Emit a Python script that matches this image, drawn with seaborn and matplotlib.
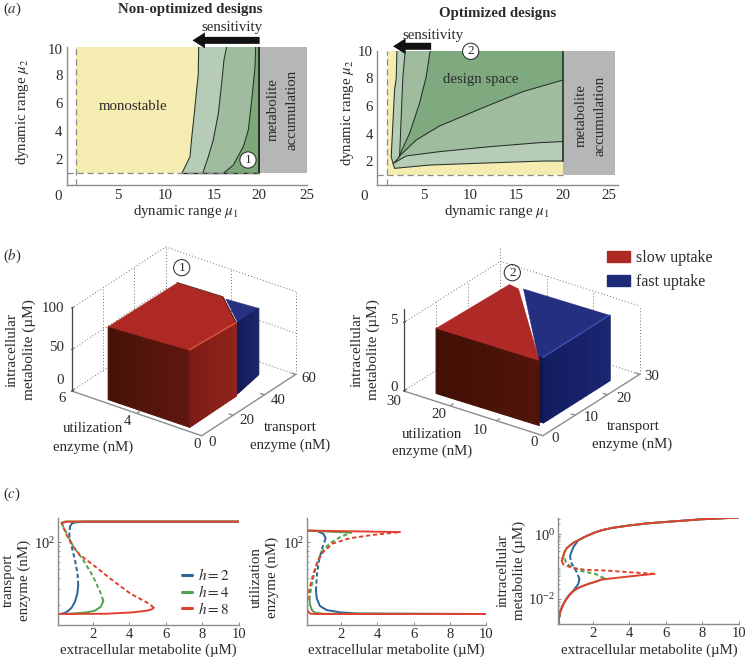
import matplotlib
matplotlib.use('Agg')
import matplotlib.pyplot as plt
import numpy as np
import seaborn as sns
from matplotlib.lines import Line2D
from matplotlib.patches import Patch
from matplotlib.ticker import LogLocator, NullFormatter
from matplotlib.transforms import ScaledTranslation
from mpl_toolkits.mplot3d import proj3d
from mpl_toolkits.mplot3d.art3d import Poly3DCollection

sns.set_theme(style='white')
plt.rcParams['font.family'] = ['Liberation Serif', 'DejaVu Serif']
plt.rcParams['mathtext.fontset'] = 'stix'

W, H = 746, 658
GREY = '#8c8c8c'
TXT = '#2b2b2b'

# panel (a), left: contours of sensitivity
a1_c1_mu1 = [12.0, 12.85, 13.0, 13.3, 13.5, 13.7, 13.75]
a1_c1_mu2 = [1, 2.2, 3.4, 5.3, 6.7, 8, 10]
a1_c2_mu1 = [14.17, 14.75, 15.27, 15.8, 16.14, 16.38, 16.66]
a1_c2_mu2 = [1, 2.18, 3.37, 5.27, 7.4, 9.06, 10]
a1_c3_mu1 = [16.32, 17.36, 18.4, 18.92, 19.27, 19.62, 19.68]
a1_c3_mu2 = [1, 1.59, 2.9, 4.08, 6.2, 8.58, 10]

# panel (a), right: closed contours
a2_c1_mu1 = [2.11, 2.04, 1.86, 1.5, 1.68, 1.86, 5.63, 11.02, 17.85, 20, 20]
a2_c1_mu2 = [10, 8, 7.16, 2.33, 1.85, 1.48, 1.72, 1.85, 2.01, 2.01, 10]
a2_c2_mu1 = [3.01, 2.76, 2.65, 2.4, 1.75, 3.12, 6.71, 12.1, 17.49, 20, 20]
a2_c2_mu2 = [10, 8.13, 6.43, 2.33, 1.85, 2.38, 2.69, 3.05, 3.34, 3.42, 10]
a2_c3_mu1 = [5.7, 5.27, 4.55, 3.48, 2.33, 4.2, 6.71, 12.1, 15.7, 20, 20]
a2_c3_mu2 = [10, 8.13, 6.19, 4.02, 2.33, 3.54, 4.55, 6.07, 7.04, 7.88, 10]

# panel (b): solids as transport, utilization, metabolite
b1_red_t = [2.8, 44, 45, 40.4, 33.4, 3]
b1_red_u = [4.54, 4.33, 2.28, 1.7, 0.83, 0.79]
b1_red_z = [88, 92, 92, 90, 88, 93]
b1_blue_t = [47.5, 52, 35]
b1_blue_u = [2.35, 1.15, 0.9]
b1_blue_z = [86, 80, 86]
b2_red_t = [2.7, 24.6, 24.1, 3]
b2_red_u = [25, 24.4, 22.1, 3]
b2_blue_t = [24.6, 25, 4.3, 4.3]
b2_blue_u = [21.4, 3, 3, 4.2]
b2_height = 4.76

# panel (c): curves run lower branch, unstable branch, upper branch
ext_ticks = [2, 4, 6, 8, 10]

trans_h2_x = [0.13, 0.3, 0.49, 0.68, 0.86, 1.04, 1.17, 1.22, 1.18, 1.04, 0.86, 0.75, 0.73, 0.77, 0.89, 1.13, 1.49, 3, 10]
trans_h2_y = [15.9, 16, 16.4, 17.3, 18.7, 21.8, 27, 33.4, 45, 63.5, 89.5, 111, 126, 150, 163, 167, 170, 170, 170]
trans_h2_turns = (7, 13)
trans_h4_x = [0.13, 0.95, 1.68, 2.13, 2.46, 2.59, 2.41, 2.04, 1.49, 0.95, 0.67, 0.4, 0.31, 0.5, 1, 10]
trans_h4_y = [15.9, 16.1, 16.6, 17.3, 19.2, 22.3, 28.2, 41.4, 63.5, 89.5, 116, 150, 166, 170, 170, 170]
trans_h4_turns = (5, 12)
trans_h8_x = [0.13, 2.77, 4.23, 4.95, 5.23, 5.35, 5.05, 4.05, 2.95, 2.04, 1.31, 0.95, 0.58, 0.31, 0.6, 10]
trans_h8_y = [15.9, 16, 16.6, 17.3, 17.9, 18.7, 20.9, 27, 39.7, 55.8, 72.3, 89.5, 121, 163, 170, 170]
trans_h8_turns = (5, 13)

util_h2_x = [10, 2.88, 1.96, 1.23, 0.86, 0.68, 0.64, 0.68, 0.77, 0.95, 1.17, 1.05, 0.68, 0.13]
util_h2_y = [15.9, 16.1, 16.6, 17.6, 19.5, 23.7, 29, 41, 58, 82, 111, 124, 134, 135]
util_h2_turns = (6, 10)
util_h4_x = [10, 1.05, 0.59, 0.41, 0.32, 0.28, 0.35, 0.5, 0.68, 0.95, 1.41, 1.96, 2.57, 0.13]
util_h4_y = [15.9, 16, 16.4, 17.6, 20, 22.8, 29, 41, 58, 78.7, 97.5, 114, 128, 135]
util_h4_turns = (5, 12)
util_h8_x = [10, 0.6, 0.35, 0.2, 0.13, 0.18, 0.31, 0.5, 0.77, 1.05, 1.59, 2.51, 3.79, 5.26, 0.13]
util_h8_y = [15.9, 15.9, 16, 16.9, 19, 23.7, 32, 45, 63.5, 78.7, 97.5, 111, 121, 130, 135]
util_h8_turns = (4, 13)

intra_low_x = [0.09, 0.12, 0.19, 0.27, 0.37]
intra_low_y = [0.00167, 0.0024, 0.00389, 0.0052, 0.007]
intra_high_x = [0.95, 1.19, 1.45, 1.74, 2.1, 2.48, 3, 3.94, 5, 6.23, 8, 10]
intra_high_y = [0.56, 0.65, 0.78, 0.93, 1.13, 1.33, 1.55, 1.85, 2.17, 2.45, 2.9, 3.27]
intra_h2_x = intra_low_x + [0.55, 0.92, 1.19, 1.25, 1.1, 0.83, 0.74, 0.74, 0.92] + intra_high_x[1:]
intra_h2_y = intra_low_y + [0.0107, 0.0182, 0.0292, 0.0419, 0.0675, 0.1225, 0.197, 0.222, 0.404] + intra_high_y[1:]
intra_h2_turns = (8, 12)
intra_h4_x = intra_low_x + [0.55, 0.74, 0.95, 1.19, 1.45, 1.74, 2.2, 2.62, 2.11, 1.38, 0.92, 0.55, 0.43, 0.28, 0.43, 0.55, 0.74] + intra_high_x
intra_h4_y = intra_low_y + [0.0102, 0.0143, 0.0182, 0.022, 0.0255, 0.0292, 0.035, 0.044, 0.0598, 0.0724, 0.092, 0.1225, 0.175, 0.148, 0.282, 0.37, 0.455] + intra_high_y
intra_h4_turns = (12, 18)
intra_h8_x = intra_low_x + [0.55, 0.74, 0.95, 1.19, 1.45, 1.74, 2.1, 2.48, 3.2, 3.94, 4.7, 5.37, 3.94, 2.66, 1.56, 0.83, 0.37, 0.28, 0.43, 0.55, 0.74] + intra_high_x
intra_h8_y = intra_low_y + [0.0102, 0.0143, 0.0182, 0.022, 0.0255, 0.0292, 0.034, 0.0398, 0.0445, 0.0494, 0.055, 0.0598, 0.0675, 0.076, 0.0798, 0.092, 0.117, 0.148, 0.282, 0.37, 0.455] + intra_high_y
intra_h8_turns = (16, 22)

H_COLORS = {2: '#2a6496', 4: '#4ea24f', 8: '#e2402f'}

fig = plt.figure(figsize=(W / 100, H / 100), dpi=100)


def add_ax(left, top, right, bottom, **kw):
    return fig.add_axes([left / W, 1 - bottom / H, (right - left) / W, (bottom - top) / H], **kw)


def label(x, y, s, size=10.7, **kw):
    kw.setdefault('ha', 'center')
    kw.setdefault('va', 'center')
    kw.setdefault('color', TXT)
    return fig.text(x / W, 1 - y / H, s, fontsize=size, **kw)


def circled(x, y, s, fill='white'):
    label(x, y, s, size=9.5, zorder=20,
          bbox=dict(boxstyle='circle,pad=0.16', fc=fill, ec='#222222', lw=0.7))


def region(ax, mu1, mu2, color, zorder=2):
    ax.fill(mu1, mu2, color=color, lw=0, zorder=zorder)


def contour(ax, mu1, mu2, lw=0.75):
    sns.lineplot(x=mu1, y=mu2, sort=False, estimator=None, color='#24302a', lw=lw, ax=ax, zorder=5)


def design_axes(ax, xmax, ymin, gray_end):
    ax.set_xlim(0, xmax)
    ax.set_ylim(ymin, 10)
    ax.set_xticks([5, 10, 15, 20, 25])
    ax.set_yticks([2, 4, 6, 8, 10])
    ax.tick_params(length=0, labelsize=10.7, colors=TXT, pad=3)
    for s in ['left', 'bottom']:
        ax.spines[s].set_color(GREY)
        ax.spines[s].set_linewidth(1)
    sns.despine(ax=ax)
    region(ax, [1, 20, 20, 1], [1, 1, 10, 10], '#f5ecb1', 1)
    region(ax, [20, gray_end, gray_end, 20], [1, 1, 10, 10], '#b5b6b6', 1)
    ax.plot([1, 1], [ymin, 10], color=GREY, lw=0.9, ls=(0, (5, 3)), zorder=6)
    ax.plot([0, 20], [1, 1], color=GREY, lw=0.9, ls=(0, (5, 3)), zorder=6)


def sens_arrow(ax, x0, x1, y):
    ax.annotate('', xy=(x1, y), xytext=(x0, y), annotation_clip=False,
                arrowprops=dict(arrowstyle='simple,head_width=0.95,head_length=0.75,tail_width=0.42',
                                color='#111111', lw=0, shrinkA=0, shrinkB=0))


def nudge(lab, dx, dy):
    lab.set_transform(lab.get_transform() + ScaledTranslation(dx / 100, dy / 100, fig.dpi_scale_trans))


# ---- panel (a) ----
ax1 = add_ax(66.7, 46.7, 306.7, 185)
design_axes(ax1, 25, 0.17, 25)
region(ax1, a1_c1_mu1 + [20, 20], a1_c1_mu2 + [10, 1], '#b7ccb7')
region(ax1, a1_c2_mu1 + [20, 20], a1_c2_mu2 + [10, 1], '#a0bc9f', 3)
region(ax1, a1_c3_mu1 + [20, 20], a1_c3_mu2 + [10, 1], '#7da87a', 4)
contour(ax1, a1_c1_mu1, a1_c1_mu2)
contour(ax1, a1_c2_mu1, a1_c2_mu2)
contour(ax1, a1_c3_mu1, a1_c3_mu2)
contour(ax1, [20, 20], [1, 10], lw=1.4)
contour(ax1, [12, 20], [1, 1], lw=1)
sens_arrow(ax1, 20.1, 13.1, 10.45)
# hand-set labels in the original sit a little off their ticks
for lab, dx in zip(ax1.get_xticklabels()[:3], [3, 2.5, 4]):
    nudge(lab, dx, 0)
nudge(ax1.get_yticklabels()[-1], 0, -2.5)

ax2 = add_ax(377.3, 50.7, 618, 185)
design_axes(ax2, 25.93, 0.275, 25.6)
region(ax2, a2_c1_mu1, a2_c1_mu2, '#b7ccb7')
region(ax2, a2_c2_mu1, a2_c2_mu2, '#a0bc9f', 3)
region(ax2, a2_c3_mu1, a2_c3_mu2, '#7fa97e', 4)
contour(ax2, a2_c1_mu1[:-1], a2_c1_mu2[:-1])
contour(ax2, a2_c2_mu1[:-1], a2_c2_mu2[:-1])
contour(ax2, a2_c3_mu1[:-1], a2_c3_mu2[:-1])
contour(ax2, [20, 20], [2, 10], lw=1.2)
sens_arrow(ax2, 5.8, 1.7, 10.32)

label(3, 9, '($a$)', ha='left')
label(190, 9, 'Non-optimized designs', size=10.7, fontweight='bold')
label(498, 13, 'Optimized designs', size=10.7, fontweight='bold')
label(231.7, 27, 'sensitivity')
label(433, 35, 'sensitivity')
label(133, 106, 'monostable')
label(481, 80, 'design space')
label(273, 110, 'metabolite', rotation=90)
label(291.7, 110, 'accumulation', rotation=90)
label(581, 116, 'metabolite', rotation=90)
label(600, 116, 'accumulation', rotation=90)
label(23, 112, 'dynamic range $\\mu_2$', rotation=90)
label(347, 113, 'dynamic range $\\mu_2$', rotation=90)
label(186, 212, 'dynamic range $\\mu_1$')
label(497, 212, 'dynamic range $\\mu_1$')
label(58, 196, '0')
label(364, 196, '0')
circled(248, 160, '1')
circled(470.7, 51.3, '2')


# ---- panel (b) ----
def make_box(lims, elev, azim, aspect):
    ax = fig.add_axes([0.1, 0.1, 0.4, 0.4 * W / H], projection='3d', proj_type='ortho',
                      computed_zorder=False)
    ax.set_xlim(0, lims[0])
    ax.set_ylim(0, lims[1])
    ax.set_zlim(0, lims[2])
    ax.view_init(elev=elev, azim=azim)
    ax.set_box_aspect(aspect)
    ax.set_axis_off()
    ax.patch.set_alpha(0)
    return ax


def to_px(ax, pt):
    ax.apply_aspect()
    x, y, _ = proj3d.proj_transform(pt[0], pt[1], pt[2], ax.get_proj())
    d = ax.transData.transform((x, y))
    return d[0], H - d[1]


def fit_box(ax, a, b, a_px, b_px):
    # size and shift the 3D axes so two box corners land on the wanted pixels
    for _ in range(4):
        p, q = to_px(ax, a), to_px(ax, b)
        ratio = (b_px[0] - a_px[0]) / (q[0] - p[0])
        pos = ax.get_position()
        ax.set_position([pos.x0, pos.y0, pos.width * ratio, pos.height * ratio])
        p = to_px(ax, a)
        pos = ax.get_position()
        ax.set_position([pos.x0 + (a_px[0] - p[0]) / W, pos.y0 - (a_px[1] - p[1]) / H, pos.width, pos.height])


def poly(ax, pts, color, zorder, aa=True, lw=0.3):
    pc = Poly3DCollection([pts], facecolors=color, edgecolors=color, linewidths=lw, zorder=zorder, antialiaseds=aa)
    ax.add_collection3d(pc)


def wall(ax, p0, p1, c0, c1, zorder, n=14):
    # vertical face between two (t, u, z_top) points, shaded across its width
    c0, c1 = np.array(matplotlib.colors.to_rgb(c0)), np.array(matplotlib.colors.to_rgb(c1))
    for i in range(n):
        f0, f1 = i / n, (i + 1) / n
        a = [p0[k] + (p1[k] - p0[k]) * f0 for k in range(3)]
        b = [p0[k] + (p1[k] - p0[k]) * f1 for k in range(3)]
        col = tuple(c0 + (c1 - c0) * (f0 + f1) / 2)
        poly(ax, [(a[0], a[1], 0), (b[0], b[1], 0), (b[0], b[1], b[2]), (a[0], a[1], a[2])], col, zorder,
             aa=False, lw=0.8)


def frame(ax, tmax, umax, zmax, t_ticks, u_ticks, z_ticks):
    dot = dict(color='#6f6f6f', lw=0.7, ls=(0, (1, 2.2)), zorder=1)
    ztop = z_ticks[-1]
    for z in z_ticks:
        ax.plot([0, tmax], [umax, umax], [z, z], **dot)
        ax.plot([tmax, tmax], [umax, 0], [z, z], **dot)
    for t in t_ticks[1:-1]:
        ax.plot([t, t], [umax, umax], [0, ztop], **dot)
    for u in u_ticks[1:-1]:
        ax.plot([tmax, tmax], [u, u], [0, ztop], **dot)
    ax.plot([tmax, tmax], [umax, umax], [0, zmax], **dot)
    ax.plot([tmax, tmax], [0, 0], [0, ztop], **dot)
    solid = dict(color=GREY, lw=1, zorder=2)
    ax.plot([0, 0], [umax, 0], [0, 0], **solid)
    ax.plot([0, tmax], [0, 0], [0, 0], **solid)
    ax.plot([0, 0], [umax, umax], [0, zmax], color='#444444', lw=0.9, zorder=2)
    for t in t_ticks[1:]:
        ax.plot([t, t], [0, 0.03 * umax], [0, 0], **solid)
    for u in u_ticks[1:]:
        ax.plot([0, 0.03 * tmax], [u, u], [0, 0], **solid)
    for z in z_ticks:
        ax.plot([0, 0.02 * tmax], [umax, umax], [z, z], color='#444444', lw=0.8, zorder=2)


box1 = make_box((60, 6, 100), 28.3, 216, (160, 160.7, 94))
frame(box1, 60, 6, 100, [0, 20, 40, 60], [0, 3, 6], [0, 50, 100])
fit_box(box1, (0, 6, 0), (60, 0, 0), (71.7, 391), (295.7, 374.3))
poly(box1, list(zip(b1_blue_t, b1_blue_u, b1_blue_z)), '#26317f', 5)
wall(box1, (b1_blue_t[2], b1_blue_u[2], b1_blue_z[2]), (b1_blue_t[1], b1_blue_u[1], b1_blue_z[1]), '#121a58', '#1b2669', 6)
wall(box1, (b1_red_t[0], b1_red_u[0], b1_red_z[0]), (b1_red_t[5], b1_red_u[5], b1_red_z[5]), '#471208', '#5e1710', 7)
wall(box1, (b1_red_t[5], b1_red_u[5], b1_red_z[5]), (b1_red_t[4], b1_red_u[4], b1_red_z[4]), '#7c1c15', '#8f231b', 7)
poly(box1, list(zip(b1_red_t, b1_red_u, b1_red_z)), '#ae2924', 8)
box1.plot(b1_red_t[4:], b1_red_u[4:], b1_red_z[4:], color='#de5a3c', lw=0.9, zorder=9)
box1.plot(b1_red_t[1:5], b1_red_u[1:5], b1_red_z[1:5], color='#3c0c08', lw=0.5, zorder=9)

box2 = make_box((30, 30, 6), 26.8, 215.4, (166.9, 170.9, 91.9))
frame(box2, 30, 30, 6, [0, 10, 20, 30], [0, 10, 20, 30], [0, 5])
fit_box(box2, (0, 30, 0), (30, 0, 0), (403.7, 391), (639.7, 374.3))
b2_blue_z = [b2_height] * 4
wall(box2, (b2_blue_t[3], b2_blue_u[3], b2_height), (b2_blue_t[2], b2_blue_u[2], b2_height), '#0c123e', '#10174a', 5, n=2)
wall(box2, (b2_blue_t[2], b2_blue_u[2], b2_height), (b2_blue_t[1], b2_blue_u[1], b2_height), '#131c5e', '#1b2672', 6)
poly(box2, list(zip(b2_blue_t, b2_blue_u, b2_blue_z)), '#242f80', 7)
box2.plot(b2_blue_t[1:3], b2_blue_u[1:3], [b2_height] * 2, color='#3a55b0', lw=0.9, zorder=8)
b2_red_z = [b2_height] * 4
wall(box2, (b2_red_t[0], b2_red_u[0], b2_height), (b2_red_t[3], b2_red_u[3], b2_height), '#401006', '#521408', 9)
poly(box2, list(zip(b2_red_t, b2_red_u, b2_red_z)), '#af2a26', 10)

label(3, 255.7, '($b$)', ha='left')
for x, y, s in [(53.3, 308.3, '100'), (56.7, 347.3, '50'), (60, 380.7, '0'), (61.7, 399, '6'),
                (127.7, 421.7, '4'), (196.7, 445, '0'), (212.3, 442.3, '0'), (247.3, 421, '20'),
                (278.3, 400, '40'), (309, 379, '60'),
                (393.7, 320.7, '5'), (393.7, 387.7, '0'), (393.7, 401.7, '30'), (438.7, 415, '20'),
                (480.7, 430, '10'), (533.7, 442.3, '0'), (554.7, 439, '0'), (591.3, 417.7, '10'),
                (623.7, 398.3, '20'), (651.3, 376.7, '30')]:
    label(x, y, s)
label(92.7, 429, 'utilization')
label(92.7, 447.7, 'enzyme (nM)')
label(290, 427, 'transport')
label(290, 445, 'enzyme (nM)')
label(432, 434, 'utilization')
label(432, 451, 'enzyme (nM)')
label(633, 426.7, 'transport')
label(632, 444.3, 'enzyme (nM)')
label(11.7, 350, 'intracellular', size=11, rotation=90)
label(29.3, 350, 'metabolite (\u00b5M)', size=11, rotation=90)
label(356.7, 350, 'intracellular', size=11, rotation=90)
label(373, 350, 'metabolite (\u00b5M)', size=11, rotation=90)
circled(181.7, 267.7, '1', fill='none')
circled(512.3, 272.7, '2', fill='none')

fig.legend(handles=[Patch(color='#ae2924', label='slow uptake'), Patch(color='#1d2a78', label='fast uptake')],
           loc='upper left', bbox_to_anchor=(607 / W, 1 - 250 / H), frameon=False, fontsize=11.5,
           handlelength=1.44, handleheight=0.75, handletextpad=0.36, labelspacing=0.5,
           borderpad=0, borderaxespad=0, labelcolor=TXT)


# ---- panel (c) ----
def curve(ax, xs, ys, turns, color):
    i, j = turns
    parts = [(xs[:i + 1], ys[:i + 1], '-'), (xs[i:j + 1], ys[i:j + 1], (0, (2.2, 1.4))), (xs[j:], ys[j:], '-')]
    for px, py, ls in parts:
        sns.lineplot(x=px, y=py, sort=False, estimator=None, color=color, lw=1.4, linestyle=ls, ax=ax)


def curve_axes(left, top, right, bottom, x0, ylim, ymajor):
    ax = add_ax(left, top, right, bottom)
    ax.set_yscale('log')
    ax.set_xlim(x0, 10)
    ax.set_ylim(*ylim)
    ax.set_xticks(ext_ticks)
    ax.set_yticks(ymajor)
    ax.yaxis.set_minor_locator(LogLocator(base=10, subs=range(2, 10), numticks=12))
    ax.yaxis.set_minor_formatter(NullFormatter())
    ax.tick_params(which='major', direction='in', length=2.5, width=0.7, color=GREY, labelsize=10.5, labelcolor=TXT, pad=2,
                   left=True, bottom=True)
    ax.tick_params(which='minor', direction='in', length=1.5, width=0.6, color=GREY, left=True)
    for s in ['left', 'bottom']:
        ax.spines[s].set_color(GREY)
        ax.spines[s].set_linewidth(1)
    sns.despine(ax=ax)
    return ax


c1 = curve_axes(58.3, 518.3, 239, 625.3, 0.13, (11.9, 185), [100])
curve(c1, trans_h2_x, trans_h2_y, trans_h2_turns, H_COLORS[2])
curve(c1, trans_h4_x, trans_h4_y, trans_h4_turns, H_COLORS[4])
curve(c1, trans_h8_x, trans_h8_y, trans_h8_turns, H_COLORS[8])
c1.legend(handles=[Line2D([], [], color=H_COLORS[h], lw=2.2, label=f'$h={h}$') for h in [2, 4, 8]],
          loc='upper left', bbox_to_anchor=((182 - 58.3) / 180.7, (625.3 - 567) / 107), frameon=False,
          fontsize=11, handlelength=0.65, handletextpad=0.4, labelspacing=0.06, borderpad=0, borderaxespad=0,
          labelcolor=TXT)

c2 = curve_axes(306.7, 518.3, 486.3, 625.3, 0.13, (11.9, 185), [100])
curve(c2, util_h2_x, util_h2_y, util_h2_turns, H_COLORS[2])
curve(c2, util_h4_x, util_h4_y, util_h4_turns, H_COLORS[4])
curve(c2, util_h8_x, util_h8_y, util_h8_turns, H_COLORS[8])

c3 = curve_axes(558.3, 517.7, 738.7, 624.3, 0.09, (10 ** -2.78, 10 ** 0.51), [0.01, 1])
curve(c3, intra_h2_x, intra_h2_y, intra_h2_turns, H_COLORS[2])
curve(c3, intra_h4_x, intra_h4_y, intra_h4_turns, H_COLORS[4])
curve(c3, intra_h8_x, intra_h8_y, intra_h8_turns, H_COLORS[8])

label(3, 494, '($c$)', ha='left')
label(148.3, 650, 'extracellular metabolite (\u00b5M)')
label(396.5, 650, 'extracellular metabolite (\u00b5M)')
label(649, 650, 'extracellular metabolite (\u00b5M)')
label(8.5, 580, 'transport', size=10.8, rotation=90)
label(24.5, 580, 'enzyme (nM)', size=10.8, rotation=90)
label(256, 577, 'utilization', size=10.8, rotation=90)
label(272.5, 577, 'enzyme (nM)', size=10.8, rotation=90)
label(503, 570, 'intracellular', size=10.8, rotation=90)
label(519, 570, 'metabolite (\u00b5M)', size=10.8, rotation=90)

fig.savefig('out.png', dpi=100)
